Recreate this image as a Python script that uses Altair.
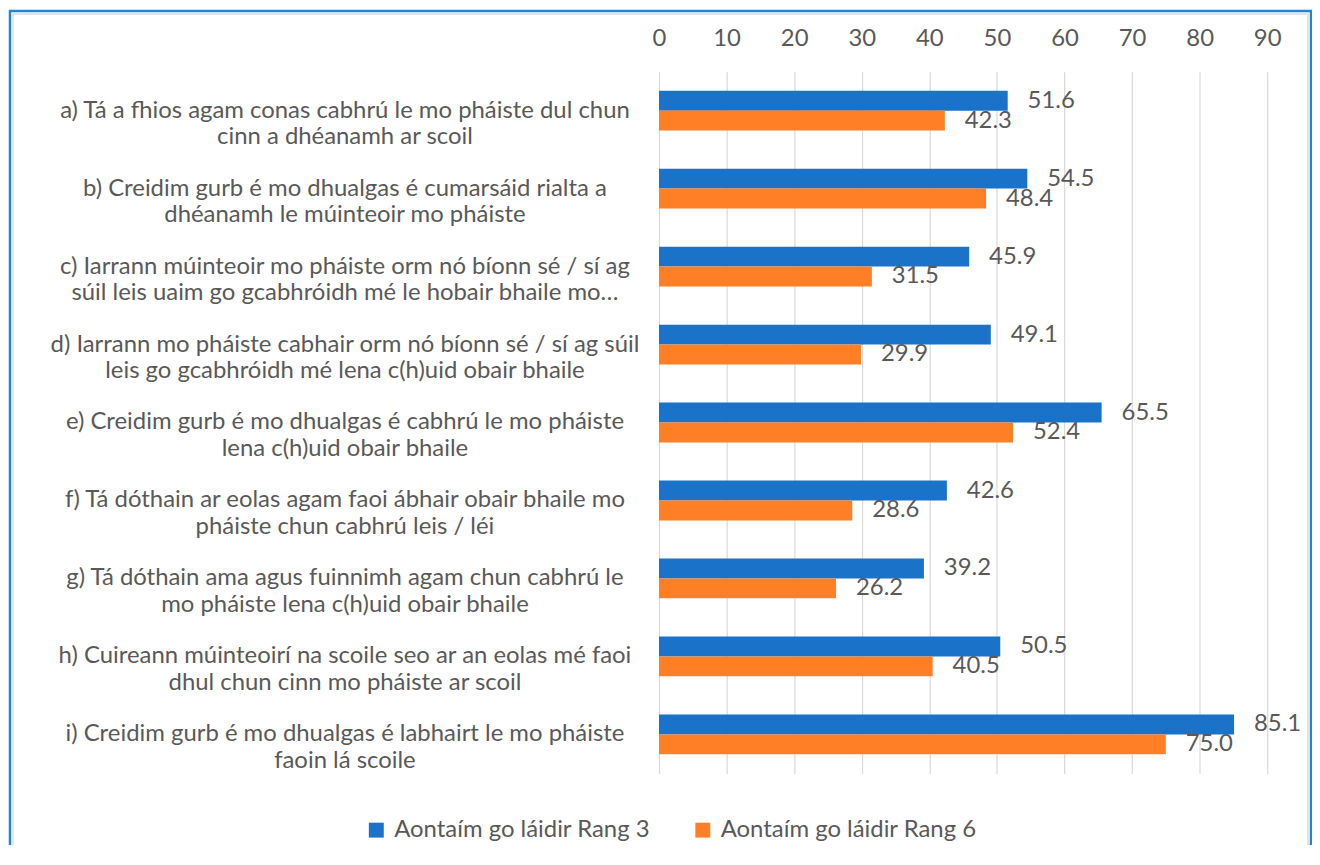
import altair as alt
import pandas as pd

categories = [
    "a) Tá a fhios agam conas cabhrú le mo pháiste dul chun|cinn a dhéanamh ar scoil",
    "b) Creidim gurb é mo dhualgas é cumarsáid rialta a|dhéanamh le múinteoir mo pháiste",
    "c) Iarrann múinteoir mo pháiste orm nó bíonn sé / sí ag|súil leis uaim go gcabhróidh mé le hobair bhaile mo…",
    "d) Iarrann mo pháiste cabhair orm nó bíonn sé / sí ag súil|leis go gcabhróidh mé lena c(h)uid obair bhaile",
    "e) Creidim gurb é mo dhualgas é cabhrú le mo pháiste|lena c(h)uid obair bhaile",
    "f) Tá dóthain ar eolas agam faoi ábhair obair bhaile mo|pháiste chun cabhrú leis / léi",
    "g) Tá dóthain ama agus fuinnimh agam chun cabhrú le|mo pháiste lena c(h)uid obair bhaile",
    "h) Cuireann múinteoirí na scoile seo ar an eolas mé faoi|dhul chun cinn mo pháiste ar scoil",
    "i) Creidim gurb é mo dhualgas é labhairt le mo pháiste|faoin lá scoile",
]
series_names = ["Aontaím go láidir Rang 3", "Aontaím go láidir Rang 6"]
rang3 = [51.6, 54.5, 45.9, 49.1, 65.5, 42.6, 39.2, 50.5, 85.1]
rang6 = [42.3, 48.4, 31.5, 29.9, 52.4, 28.6, 26.2, 40.5, 75.0]
x_ticks = [0, 10, 20, 30, 40, 50, 60, 70, 80, 90]

rows = []
for c, v3, v6 in zip(categories, rang3, rang6):
    rows.append({"cat": c, "series": series_names[0], "value": v3})
    rows.append({"cat": c, "series": series_names[1], "value": v6})
df = pd.DataFrame(rows)

FONT = "Lato"
FS = 24
GREY = "#595959"
colors = ["#1B72C9", "#FE7F26"]

y_enc = alt.Y(
    "cat:N",
    sort=categories,
    title=None,
    scale=alt.Scale(paddingInner=0.49, paddingOuter=0.245),
    axis=alt.Axis(
        labelExpr="split(datum.label, '|')",
        labelAlign="center",
        labelPadding=316,
        labelLimit=0,
        labelFontSize=FS,
        labelLineHeight=27,
        labelColor=GREY,
        labelFont=FONT,
        ticks=False,
        domain=False,
        grid=False,
    ),
)
x_enc = alt.X(
    "value:Q",
    title=None,
    scale=alt.Scale(domain=[0, 90], nice=False),
    axis=alt.Axis(
        orient="top",
        values=x_ticks,
        labelFontSize=FS,
        labelColor=GREY,
        labelFont=FONT,
        labelPadding=21,
        labelFlush=False,
        labelOverlap=False,
        ticks=False,
        domain=False,
        grid=True,
        gridColor="#d9d9d9",
        gridWidth=1.2,
    ),
)
yoff = alt.YOffset("series:N", sort=series_names, scale=alt.Scale(paddingInner=0, paddingOuter=0))

bars = alt.Chart(df).mark_bar(size=20).encode(
    y=y_enc,
    x=x_enc,
    yOffset=yoff,
    color=alt.Color(
        "series:N",
        sort=series_names,
        scale=alt.Scale(domain=series_names, range=colors),
        legend=alt.Legend(
            title=None,
            orient="none",
            direction="horizontal",
            legendX=-296,
            legendY=750,
            symbolType="square",
            symbolSize=225,
            symbolStrokeWidth=0,
            labelFontSize=FS,
            labelFont=FONT,
            labelColor=GREY,
            labelOffset=6,
            columnPadding=40,
            labelLimit=0,
        ),
    ),
)

labels = alt.Chart(df).mark_text(
    align="left", baseline="middle", dx=20, fontSize=FS, font=FONT, color=GREY
).encode(
    y=alt.Y("cat:N", sort=categories),
    x=alt.X("value:Q"),
    yOffset=yoff,
    text=alt.Text("value:Q", format=".1f"),
)

frame = pd.DataFrame({"k": [0]})
border = alt.Chart(frame).mark_rect(
    fill=None, stroke="#1F86D6", strokeWidth=2.5
).encode(
    x=alt.value(-652), x2=alt.value(655), y=alt.value(-61), y2=alt.value(820)
)
inner = alt.Chart(frame).mark_rect(
    fill=None, stroke="#dcdcdc", strokeWidth=1.5
).encode(
    x=alt.value(-649), x2=alt.value(652), y=alt.value(-58), y2=alt.value(817)
)

chart = (
    alt.layer(bars, labels, inner, border)
    .properties(
        width=611,
        height=705,
        padding={"left": 654, "top": 62, "right": 45, "bottom": 70},
        autosize=alt.AutoSizeParams(type="none"),
        background="white",
    )
    .configure_view(stroke=None)
)

chart.save("out.html", embed_options={"renderer": "svg", "actions": False})
